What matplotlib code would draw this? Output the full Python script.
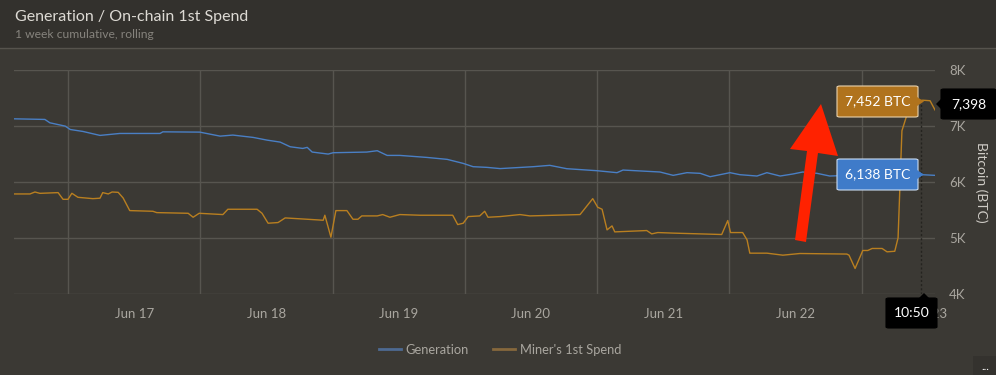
import matplotlib
matplotlib.use("Agg")
import matplotlib.pyplot as plt
from matplotlib.patches import Polygon, Rectangle, FancyBboxPatch
from matplotlib.lines import Line2D
from matplotlib.ticker import FuncFormatter

plt.rcParams['font.family'] = ['Lato', 'DejaVu Sans']

# hours since Jun 16 00:00, values in BTC (1 week rolling sum)
gen_hours = [14.2, 19.8, 20.7, 23.5, 24.4, 26.7, 29.8, 33.4, 40.7, 41.2, 47.9, 51.6,
             53.9, 57.6, 60.1, 62.5, 64.3, 66.6, 67.4, 68.3, 71.2, 72.1, 78.2, 80.1,
             81.9, 84.2, 89.1, 92.8, 95.7, 97.5, 100.0, 102.4, 108.4, 111.4, 114.5,
             120.0, 123.6, 124.7, 131.4, 133.8, 136.3, 138.7, 140.5, 144.1, 145.9,
             149.0, 150.8, 153.2, 155.5, 157.3, 159.9, 162.2, 165.9, 171.3, 175.8,
             178.9, 181.3]
gen_btc = [7131, 7120, 7060, 7000, 6940, 6905, 6834, 6869, 6869, 6898, 6893, 6821,
           6840, 6798, 6750, 6714, 6631, 6601, 6620, 6536, 6500, 6524, 6536, 6560,
           6476, 6476, 6440, 6405, 6333, 6274, 6262, 6240, 6274, 6298, 6238,
           6202, 6167, 6214, 6179, 6119, 6167, 6155, 6095, 6167, 6131,
           6107, 6167, 6107, 6143, 6179, 6155, 6107, 6120, 6130, 6125,
           6131, 6119]

spend_hours = [14.2, 17.1, 18.0, 18.9, 22.2, 23.1, 24.0, 24.7, 25.8, 28.5, 29.8, 30.3,
               31.3, 32.0, 33.1, 34.0, 35.2, 39.4, 40.1, 45.8, 46.7, 47.8, 52.1, 53.0,
               58.3, 59.2, 60.3, 62.1, 63.4, 69.4, 70.3, 70.6, 71.7, 72.6, 74.6, 75.7,
               76.6, 77.3, 80.1, 81.1, 82.4, 84.2, 87.9, 93.8, 94.7, 95.7, 96.6, 98.7,
               99.6, 100.2, 102.4, 106.0, 107.8, 116.9, 119.2, 120.1, 120.9, 121.8,
               122.7, 123.2, 129.0, 129.9, 131.0, 133.8, 142.6, 143.7, 144.2, 146.4,
               147.2, 147.7, 150.8, 153.7, 156.8, 165.3, 165.7, 166.8, 168.2, 169.1,
               169.9, 171.7, 172.6, 174.0, 174.6, 175.3, 176.2, 177.3, 179.1, 180.4,
               181.3]
spend_btc = [5786, 5786, 5821, 5797, 5810, 5690, 5690, 5798, 5726, 5702, 5710, 5810,
             5786, 5821, 5815, 5714, 5488, 5476, 5452, 5440, 5369, 5440, 5417, 5512,
             5512, 5440, 5262, 5274, 5357, 5321, 5315, 5405, 5012, 5488, 5488, 5333,
             5333, 5393, 5393, 5417, 5369, 5417, 5405, 5405, 5238, 5262, 5381, 5393,
             5476, 5369, 5381, 5417, 5393, 5417, 5702, 5548, 5512, 5143,
             5214, 5107, 5131, 5071, 5095, 5085, 5060, 5310, 5095, 5095,
             4964, 4726, 4726, 4690, 4720, 4710, 4690, 4452, 4774, 4774,
             4810, 4810, 4750, 4760, 5000, 6917, 7200, 7440, 7464, 7455,
             7290]

day_labels = ['Jun 17', 'Jun 18', 'Jun 19', 'Jun 20', 'Jun 21', 'Jun 22', 'Jun 23']
label_hours = [36, 60, 84, 108, 132, 156, 180]
midnights = [24, 48, 72, 96, 120, 144, 168]
y_ticks = [4000, 5000, 6000, 7000, 8000]

cursor_hour = 178.83
cursor_gen = '6,138 BTC'
cursor_spend = '7,452 BTC'
cursor_y = '7,398'
cursor_time = '10:50'

BG = '#3b3934'
BAR = '#33312d'
GRID = '#57554f'
TXT = '#a9a69f'
BLUE = '#4a7fc4'
ORANGE = '#b97f20'

W, H = 996, 375
fig = plt.figure(figsize=(W / 100, H / 100), dpi=100, facecolor=BG)


def fx(x):
    return x / W


def fy(y):
    return 1 - y / H


# header bar
fig.patches.append(Rectangle((0, fy(48)), 1, 48 / H, transform=fig.transFigure,
                             facecolor=BAR, edgecolor='none', zorder=0))
fig.add_artist(Line2D([0, 1], [fy(48), fy(48)], color='#56534d', lw=1))
fig.text(fx(15), fy(17), 'Generation / On-chain 1st Spend', color='#dddad4',
         fontsize=11.5, va='center', ha='left')
fig.text(fx(15), fy(34), '1 week cumulative, rolling', color='#86837d',
         fontsize=8.7, va='center', ha='left')

ax = fig.add_axes([fx(14), fy(294), 921 / W, 224 / H])
ax.set_facecolor(BG)
for s in ax.spines.values():
    s.set_visible(False)

ax.plot(gen_hours, gen_btc, color=BLUE, lw=1.0, zorder=3)
ax.plot(spend_hours, spend_btc, color=ORANGE, lw=1.0, zorder=3)

ax.set_xlim(14.2, 181.3)
ax.set_ylim(3995, 8005)
ax.set_xticks(label_hours)
ax.set_xticklabels(day_labels)
ax.set_xticks(midnights, minor=True)
ax.set_yticks(y_ticks)
ax.yaxis.set_major_formatter(FuncFormatter(lambda v, p: f'{int(v / 1000)}K'))
ax.yaxis.tick_right()
ax.yaxis.set_label_position('right')
ax.tick_params(axis='both', which='both', length=0, colors=TXT, labelsize=9.5)
ax.tick_params(axis='x', pad=10)
ax.tick_params(axis='y', pad=10)
ax.grid(axis='y', which='major', color=GRID, lw=1)
ax.grid(axis='x', which='minor', color=GRID, lw=1)
ax.grid(axis='x', which='major', visible=False)
ax.set_ylabel('Bitcoin (BTC)', rotation=270, color='#cfccc6', fontsize=10, labelpad=16)

ax.axvline(cursor_hour, ymax=0.86, color='#24231f', lw=1, ls=(0, (1.5, 1.5)), zorder=2)

# legend
handles = [Line2D([], [], color='#4d6a92', lw=2), Line2D([], [], color='#86683c', lw=2)]
leg = fig.legend(handles, ['Generation', "Miner's 1st Spend"], loc='center',
                 bbox_to_anchor=(fx(500), fy(350)), ncol=2, frameon=False,
                 handlelength=1.7, handletextpad=0.35, columnspacing=1.9,
                 fontsize=9.3)
for t in leg.get_texts():
    t.set_color(TXT)


def tag(x0, y0, x1, y1, fill, edge, text, tip=None):
    fig.patches.append(FancyBboxPatch((fx(x0), fy(y1)), (x1 - x0) / W, (y1 - y0) / H,
                                      boxstyle='round,pad=0,rounding_size=0.003',
                                      transform=fig.transFigure, facecolor=fill,
                                      edgecolor=edge, lw=0.8, zorder=5))
    if tip is not None:
        fig.patches.append(Polygon([(fx(p[0]), fy(p[1])) for p in tip], closed=True,
                                   transform=fig.transFigure, facecolor=fill,
                                   edgecolor='none', zorder=6))
    fig.text(fx((x0 + x1) / 2), fy((y0 + y1) / 2), text, color='white', fontsize=10,
             ha='center', va='center', zorder=7)


tag(837, 86, 918, 117, '#b0731d', '#e9d2ad', cursor_spend,
    [(917, 97), (924, 101.5), (917, 106)])
tag(837, 159, 918, 190, '#3f7bc9', '#c9dbf2', cursor_gen,
    [(917, 170), (924, 174.5), (917, 179)])
tag(941, 89, 996, 119, 'black', 'black', cursor_y,
    [(942, 98), (936, 104), (942, 110)])
tag(886, 298, 937, 328, 'black', 'black', cursor_time,
    [(918, 299), (924, 293), (930, 299)])

# menu button
fig.patches.append(Rectangle((fx(973), 0), 23 / W, 19 / H, transform=fig.transFigure,
                             facecolor='#34322e', edgecolor='none', zorder=5))
fig.text(fx(985), fy(366), '...', color='white', fontsize=8, ha='center', va='center',
         zorder=6)

# red arrow
arrow = [(795, 240), (806, 242), (818, 153), (838, 156), (821, 104), (790, 149), (807, 151)]
fig.patches.append(Polygon([(fx(p[0]), fy(p[1])) for p in arrow], closed=True,
                           transform=fig.transFigure, facecolor='#ff2200',
                           edgecolor='none', zorder=8))

fig.savefig('out.png', dpi=100, facecolor=BG)
